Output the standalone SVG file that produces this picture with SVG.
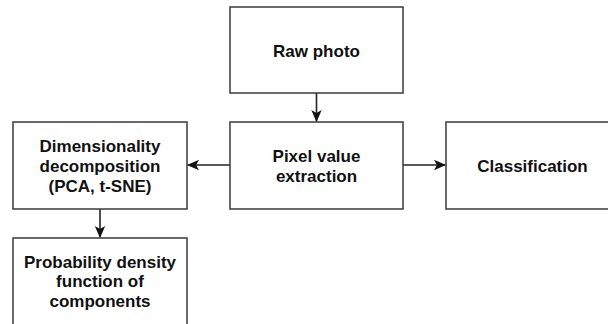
<svg xmlns="http://www.w3.org/2000/svg" width="608" height="324" viewBox="0 0 608 324">
  <style>
    .box { fill: #ffffff; stroke: #3a3a3a; stroke-width: 1.5; }
    .lbl { font-family: "Liberation Sans", Arial, sans-serif; font-size: 17px; font-weight: bold; fill: #111111; text-anchor: middle; }
    .edge { fill: none; stroke: #222222; stroke-width: 1.6; }
  </style>
  <defs>
    <marker id="arrow" viewBox="0 0 12 12" refX="11.5" refY="6" markerWidth="12" markerHeight="12" markerUnits="userSpaceOnUse" orient="auto">
      <path d="M0,0.8 L12,6 L0,11.2 L3,6 Z" fill="#111111"/>
    </marker>
  </defs>
  <rect x="0" y="0" width="608" height="324" fill="#ffffff"/>

  <g id="connectors">
    <line class="edge" x1="316.5" y1="93" x2="316.5" y2="121.5" marker-end="url(#arrow)"/>
    <line class="edge" x1="230" y1="165" x2="187.5" y2="165" marker-end="url(#arrow)"/>
    <line class="edge" x1="403" y1="165" x2="445.5" y2="165" marker-end="url(#arrow)"/>
    <line class="edge" x1="100" y1="209" x2="100" y2="237.5" marker-end="url(#arrow)"/>
  </g>

  <g id="raw-photo">
    <rect class="box" x="230" y="7" width="173" height="86"/>
    <text class="lbl" x="316.5" y="56.5">Raw photo</text>
  </g>

  <g id="pixel-value-extraction">
    <rect class="box" x="230" y="122" width="173" height="87"/>
    <text class="lbl" x="316.5" y="161.5">Pixel value</text>
    <text class="lbl" x="316.5" y="182">extraction</text>
  </g>

  <g id="dimensionality-decomposition">
    <rect class="box" x="13" y="122" width="174" height="87"/>
    <text class="lbl" x="100" y="151.5">Dimensionality</text>
    <text class="lbl" x="100" y="171.8">decomposition</text>
    <text class="lbl" x="100" y="192">(PCA, t-SNE)</text>
  </g>

  <g id="classification">
    <rect class="box" x="446" y="122" width="173" height="87"/>
    <text class="lbl" x="532.5" y="172">Classification</text>
  </g>

  <g id="probability-density">
    <rect class="box" x="13" y="238" width="174" height="87"/>
    <text class="lbl" x="100" y="267.5">Probability density</text>
    <text class="lbl" x="100" y="287.3">function of</text>
    <text class="lbl" x="100" y="307">components</text>
  </g>
</svg>
